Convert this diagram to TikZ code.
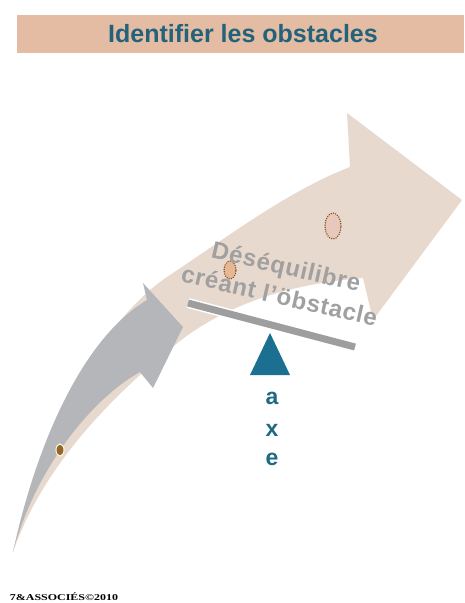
\documentclass[tikz,border=0pt]{standalone}
\usepackage{fontspec}
\setmainfont{Liberation Sans}
\newfontfamily\footfont{Liberation Serif}
\usetikzlibrary{shapes.geometric}
\definecolor{bandcol}{HTML}{E4BCA3}
\definecolor{titlecol}{HTML}{22627A}
\definecolor{beigearrow}{HTML}{E8D9CF}
\definecolor{greyarrow}{HTML}{B4B6BA}
\definecolor{textgrey}{HTML}{A0A0A0}
\definecolor{bargrey}{HTML}{9E9E9E}
\definecolor{axeblue}{HTML}{1B6F91}
\definecolor{axetext}{HTML}{1E6A85}
\definecolor{dotbrown}{HTML}{94652C}
\definecolor{ellfillA}{HTML}{E7C8BA}
\definecolor{ellfillB}{HTML}{E6B796}
\definecolor{dotedge}{HTML}{85551F}
\tikzset{
  titletext/.style={font=\bfseries\fontsize{25}{28}\selectfont, text=titlecol, inner sep=0pt},
  rotlabel/.style={font=\bfseries\fontsize{24}{30}\selectfont\addfontfeature{LetterSpace=3}, text=textgrey, align=center, inner sep=0pt, rotate=-13},
  axeletter/.style={font=\bfseries\fontsize{23}{26}\selectfont, text=axetext, inner sep=0pt},
  obstacle/.style={draw=dotedge, line width=1.6pt, dash pattern=on 0.01pt off 2.3pt, line cap=round},
  footer/.style={font=\footfont\bfseries\fontsize{9}{10}\selectfont, inner sep=0pt, xscale=1.33}
}
\begin{document}
\begin{tikzpicture}[x=1pt,y=-1pt]
\useasboundingbox (0,0) rectangle (464,603);
\fill[white] (0,0) rectangle (464,603);
% title band
\fill[bandcol] (17,15) rectangle (464,53);
\node[titletext] (title) at (243,34) {Identifier les obstacles};
% large beige arrow
\fill[beigearrow]
  (13,552) .. controls (40,440) and (100,320) .. (170,275)
  .. controls (230,235) and (290,190) .. (350,167)
  -- (347,113) -- (462,200) -- (373,320) -- (363,278)
  .. controls (300,283) and (230,300) .. (175,345)
  .. controls (120,390) and (45,460) .. (13,552)
  -- cycle;
% grey arrow
\fill[greyarrow]
  (13,552) .. controls (35,450) and (80,340) .. (147,300)
  -- (143,283) -- (183,327) -- (153,388) -- (140,372)
  .. controls (90,400) and (35,470) .. (13,552)
  -- cycle;
% brown dot on the grey arrow
\node[ellipse, fill=dotbrown, draw=white!85!yellow, line width=1pt, minimum width=8pt, minimum height=12pt, inner sep=0pt] (dot) at (60,450) {};
% obstacles (dotted ellipses)
\node[ellipse, fill=ellfillA, obstacle, minimum width=16pt, minimum height=26pt, inner sep=0pt] (obsA) at (333,226) {};
\node[ellipse, fill=ellfillB, obstacle, minimum width=12pt, minimum height=18pt, inner sep=0pt] (obsB) at (230,270) {};
% label
\node[rotlabel] (label) at (283,281) {Déséquilibre\\créant l'öbstacle};
% balance bar
\coordinate (barL) at (188,303);
\coordinate (barR) at (355,347);
\draw[white, line width=10pt] (barL) -- (barR);
\draw[bargrey, line width=7pt] (barL) -- (barR);
% pivot triangle
\fill[axeblue] (270,333) -- (290,375) -- (250,375) -- cycle;
\node[axeletter] (la) at (272,398) {a};
\node[axeletter] (lx) at (272,430) {x};
\node[axeletter] (le) at (272,459) {e};
% footer
\node[footer] (foot) at (64,597) {7\&ASSOCIÉS©2010};
\end{tikzpicture}
\end{document}
